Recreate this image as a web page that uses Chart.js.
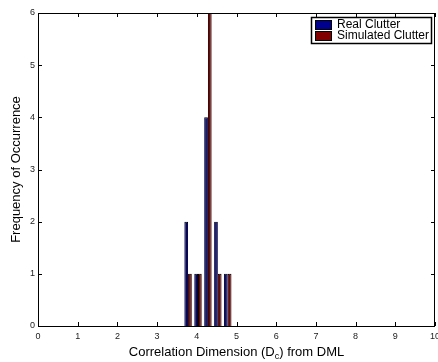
<!DOCTYPE html>
<html>
<head>
<meta charset="utf-8">
<script src="https://cdn.jsdelivr.net/npm/chart.js@4"></script>
<style>
  body { margin: 0; background: #fff; }
  #wrap { width: 438px; height: 362px; }
</style>
</head>
<body>
<div id="wrap"><canvas id="chart" width="438" height="362"></canvas></div>
<script>
// bin centres and counts
const binCentres = [3.78, 4.03, 4.28, 4.53, 4.78];
const realClutter = [2, 1, 4, 2, 1];
const simClutter = [1, 1, 6, 1, 1];
const xTicks = [0, 1, 2, 3, 4, 5, 6, 7, 8, 9, 10];
const yTicks = [0, 1, 2, 3, 4, 5, 6];

const navy = '#00008f';
const maroon = '#800000';
const fontFam = '"Liberation Sans", Arial, sans-serif';

// matlab style frame, inward tick marks, boxed legend, x title with subscript
const framePlugin = {
    id: 'frame',
    afterDatasetsDraw(chart) {
        const c = chart.ctx;
        const a = chart.chartArea;
        const xs = chart.scales.x, ys = chart.scales.y;
        c.save();
        c.strokeStyle = '#000';
        c.lineWidth = 1;
        c.beginPath();
        xTicks.forEach(v => {
            const px = Math.round(xs.getPixelForValue(v)) + 0.5;
            c.moveTo(px, a.bottom); c.lineTo(px, a.bottom - 4);
            c.moveTo(px, a.top); c.lineTo(px, a.top + 4);
        });
        yTicks.forEach(v => {
            const py = Math.round(ys.getPixelForValue(v)) + 0.5;
            c.moveTo(a.left, py); c.lineTo(a.left + 4, py);
            c.moveTo(a.right, py); c.lineTo(a.right - 4, py);
        });
        c.stroke();
        c.strokeRect(a.left + 0.5, a.top + 0.5, a.right - a.left - 1, a.bottom - a.top);

        // legend
        const lx = a.right - 124, ly = a.top + 4, lw = 120, lh = 26;
        c.fillStyle = '#fff';
        c.fillRect(lx, ly, lw, lh);
        c.lineWidth = 1.5;
        c.strokeRect(lx + 0.5, ly + 0.5, lw, lh);
        c.lineWidth = 1;
        const items = [['Real Clutter', navy], ['Simulated Clutter', maroon]];
        c.font = '12px ' + fontFam;
        c.textBaseline = 'middle';
        items.forEach((it, i) => {
            const yy = ly + 3 + i * 11;
            c.fillStyle = it[1];
            c.fillRect(lx + 4, yy, 16, 9);
            c.strokeStyle = '#000';
            c.strokeRect(lx + 4.5, yy + 0.5, 16, 9);
            c.fillStyle = '#000';
            c.fillText(it[0], lx + 26, yy + 5);
        });

        // x axis title with subscript c
        const parts = ['Correlation Dimension (D', 'c', ') from DML'];
        const big = '13px ' + fontFam, small = '9px ' + fontFam;
        c.font = big; const w0 = c.measureText(parts[0]).width, w2 = c.measureText(parts[2]).width;
        c.font = small; const w1 = c.measureText(parts[1]).width;
        let tx = (a.left + a.right) / 2 - (w0 + w1 + w2) / 2;
        const ty = 356;
        c.fillStyle = '#000';
        c.textBaseline = 'alphabetic';
        c.textAlign = 'left';
        c.font = big; c.fillText(parts[0], tx, ty); tx += w0;
        c.font = small; c.fillText(parts[1], tx, ty + 3); tx += w1;
        c.font = big; c.fillText(parts[2], tx, ty);
        c.restore();
    }
};

const chart = new Chart(document.getElementById('chart'), {
    type: 'bar',
    data: {
        datasets: [
            {
                label: 'Real Clutter',
                data: binCentres.map((x, i) => ({ x: x, y: realClutter[i] })),
                backgroundColor: navy,
                borderColor: '#000',
                borderWidth: 1,
                categoryPercentage: 0.75,
                barPercentage: 1
            },
            {
                label: 'Simulated Clutter',
                data: binCentres.map((x, i) => ({ x: x, y: simClutter[i] })),
                backgroundColor: maroon,
                borderColor: '#000',
                borderWidth: 1,
                categoryPercentage: 0.75,
                barPercentage: 1
            }
        ]
    },
    options: {
        responsive: false,
        animation: false,
        layout: { padding: { top: 13, right: 3, left: 0, bottom: 0 } },
        plugins: { legend: { display: false }, tooltip: { enabled: false } },
        scales: {
            x: {
                type: 'linear',
                offset: false,
                min: 0,
                max: 10,
                afterBuildTicks: s => { s.ticks = xTicks.map(v => ({ value: v })); },
                afterFit: s => { s.height = 36; s.paddingLeft = 0; s.paddingRight = 0; },
                grid: { display: false, drawTicks: false },
                border: { display: false },
                ticks: { padding: 5, maxRotation: 0, color: '#222', font: { size: 9, family: fontFam } }
            },
            y: {
                min: 0,
                max: 6,
                afterBuildTicks: s => { s.ticks = yTicks.map(v => ({ value: v })); },
                afterFit: s => { s.width = 38; s.paddingTop = 0; s.paddingBottom = 0; },
                grid: { display: false, drawTicks: false },
                border: { display: false },
                ticks: { padding: 3, color: '#222', font: { size: 9, family: fontFam } },
                title: {
                    display: true,
                    text: 'Frequency of Occurrence',
                    color: '#000',
                    padding: { top: 9, bottom: 0 },
                    font: { size: 13, family: fontFam }
                }
            }
        }
    },
    plugins: [framePlugin]
});
</script>
</body>
</html>
